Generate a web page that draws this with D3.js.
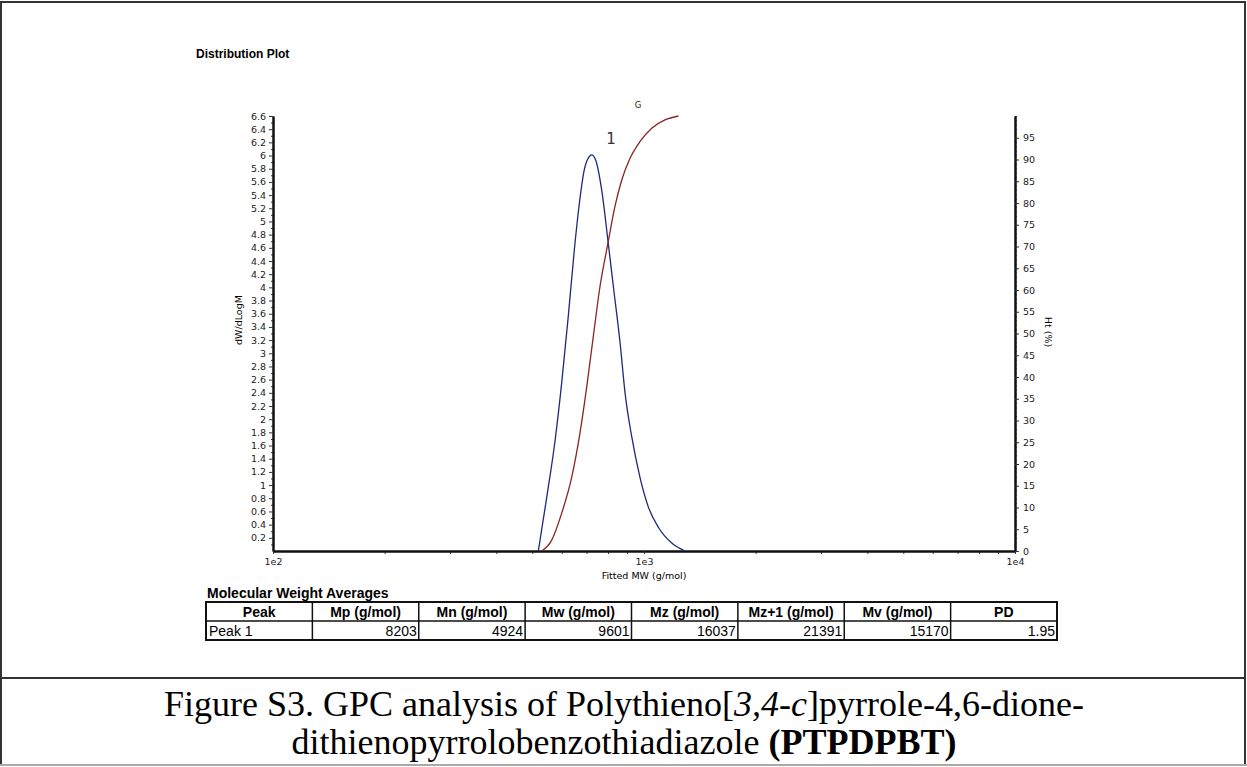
<!DOCTYPE html>
<html>
<head>
<meta charset="utf-8">
<script src="https://cdn.jsdelivr.net/npm/d3@7"></script>
<style>
  body { margin: 0; background: #fff; }
  svg { display: block; }
  .tick text { font-family: "DejaVu Sans", Verdana, sans-serif; font-size: 9.5px; fill: #222; }
</style>
</head>
<body>
<svg id="chart" width="1247" height="767"></svg>
<script>
// distribution curve (dW/dLogM)
var distMW = [519, 547, 576, 600, 625, 649, 668, 690, 711, 723, 741, 769, 801, 827, 862, 889, 927, 975, 1027, 1093, 1188, 1290]
var distDW = [0, 0.82, 1.68, 2.55, 3.56, 4.57, 5.23, 5.78, 5.98, 6.01, 5.93, 5.48, 4.67, 4.01, 3.16, 2.40, 1.73, 1.12, 0.67, 0.36, 0.12, 0]

// cumulative curve Ht (%)
var cumMW = [530, 564, 600, 639, 672, 701, 730, 761, 801, 835, 871, 917, 975, 1049, 1139, 1238]
var cumHt = [0, 2.5, 8.7, 17.1, 27.1, 37.8, 49.3, 60.8, 71.1, 79.2, 85.3, 90.3, 94.1, 97.2, 99.1, 100]

var leftTicks = d3.range(1, 34).map(function(i) { return +(i * 0.2).toFixed(1) })
var rightTicks = d3.range(0, 100, 5)
var xTicks = [100, 1000, 10000]

var tableHeaders = ["Peak", "Mp (g/mol)", "Mn (g/mol)", "Mw (g/mol)", "Mz (g/mol)", "Mz+1 (g/mol)", "Mv (g/mol)", "PD"]
var tableRow = ["Peak 1", "8203", "4924", "9601", "16037", "21391", "15170", "1.95"]

var svg = d3.select("#chart")

// page frame
svg.append("rect").attr("x", 1).attr("y", 2).attr("width", 1244).attr("height", 763)
  .attr("fill", "none").attr("stroke", "#333").attr("stroke-width", 2)
svg.append("line").attr("x1", 1).attr("x2", 1246).attr("y1", 678).attr("y2", 678)
  .attr("stroke", "#333").attr("stroke-width", 2)
svg.append("line").attr("x1", 0).attr("x2", 1247).attr("y1", 765).attr("y2", 765)
  .attr("stroke", "#aaa").attr("stroke-width", 2)

svg.append("text").attr("x", 196).attr("y", 58)
  .attr("font-family", "Liberation Sans, Arial, sans-serif").attr("font-size", 12).attr("font-weight", "bold")
  .text("Distribution Plot")

var x = d3.scaleLog().domain([100, 10000]).range([273, 1015])
var yL = d3.scaleLinear().domain([0, 6.6]).range([551, 116])
var yR = d3.scaleLinear().domain([0, 100]).range([551, 116])

function styleAxis(g) {
  g.select(".domain").attr("stroke", "#111").attr("stroke-width", 2)
  g.selectAll(".tick line").attr("stroke", "#333")
}

// left axis + minor ticks
svg.append("g").attr("transform", "translate(273,0)")
  .call(d3.axisLeft(yL).tickValues(d3.range(1, 66, 2).map(function(i) { return i * 0.1 }))
    .tickSize(2).tickSizeOuter(0).tickFormat(""))
  .call(styleAxis)
svg.append("g").attr("transform", "translate(273,0)")
  .call(d3.axisLeft(yL).tickValues(leftTicks).tickSize(4).tickSizeOuter(0).tickPadding(3)
    .tickFormat(function(d) { return d3.format("~g")(d) }))
  .call(styleAxis)

// right axis + minor ticks
svg.append("g").attr("transform", "translate(1015,0)")
  .call(d3.axisRight(yR).tickValues(d3.range(0, 101)).tickSize(2).tickSizeOuter(0).tickFormat(""))
  .call(styleAxis)
svg.append("g").attr("transform", "translate(1015,0)")
  .call(d3.axisRight(yR).tickValues(rightTicks).tickSize(4).tickSizeOuter(0).tickPadding(4))
  .call(styleAxis)

// bottom axis
var minorX = []
;[100, 1000].forEach(function(b) { for (var k = 2; k <= 9; k++) minorX.push(b * k) })
svg.append("g").attr("transform", "translate(0,551)")
  .call(d3.axisBottom(x).tickValues(minorX).tickSize(3).tickSizeOuter(0).tickFormat(""))
  .call(styleAxis)
svg.append("g").attr("transform", "translate(0,551)")
  .call(d3.axisBottom(x).tickValues(xTicks).tickSize(3).tickSizeOuter(0).tickPadding(4)
    .tickFormat(function(d) { return "1e" + Math.round(Math.log10(d)) }))
  .call(styleAxis)

// axis titles
var axisFont = "DejaVu Sans, Verdana, sans-serif"
svg.append("text").attr("transform", "translate(242,320) rotate(-90)").attr("text-anchor", "middle")
  .attr("font-family", axisFont).attr("font-size", 9.5).text("dW/dLogM")
svg.append("text").attr("transform", "translate(1045,332) rotate(90)").attr("text-anchor", "middle")
  .attr("font-family", axisFont).attr("font-size", 9.5).text("Ht (%)")
svg.append("text").attr("x", 644).attr("y", 579).attr("text-anchor", "middle")
  .attr("font-family", axisFont).attr("font-size", 9.5).text("Fitted MW (g/mol)")

// curves
var distLine = d3.line().x(function(d, i) { return x(distMW[i]) }).y(function(d) { return yL(d) })
  .curve(d3.curveMonotoneX)
svg.append("path").attr("d", distLine(distDW))
  .attr("fill", "none").attr("stroke", "#1c2a78").attr("stroke-width", 1.3)

var cumLine = d3.line().x(function(d, i) { return x(cumMW[i]) }).y(function(d) { return yR(d) })
  .curve(d3.curveMonotoneX)
svg.append("path").attr("d", cumLine(cumHt))
  .attr("fill", "none").attr("stroke", "#8a2424").attr("stroke-width", 1.3)

svg.append("text").attr("x", 611).attr("y", 144).attr("text-anchor", "middle")
  .attr("font-family", axisFont).attr("font-size", 15).attr("fill", "#333").text("1")
svg.append("text").attr("x", 638).attr("y", 108).attr("text-anchor", "middle")
  .attr("font-family", axisFont).attr("font-size", 8.5).attr("fill", "#222").text("G")

// table
var tFont = "Liberation Sans, Arial, sans-serif"
svg.append("text").attr("x", 207).attr("y", 598)
  .attr("font-family", tFont).attr("font-size", 14).attr("font-weight", "bold")
  .text("Molecular Weight Averages")

var colX = d3.scaleLinear().domain([0, tableHeaders.length]).range([206, 1057])
var rowTop = 602, rowMid = 621, rowBot = 640
svg.append("rect").attr("x", colX(0)).attr("y", rowTop).attr("width", colX(8) - colX(0)).attr("height", rowBot - rowTop)
  .attr("fill", "none").attr("stroke", "#111").attr("stroke-width", 2)
svg.append("line").attr("x1", colX(0)).attr("x2", colX(8)).attr("y1", rowMid).attr("y2", rowMid)
  .attr("stroke", "#111").attr("stroke-width", 1.5)
svg.selectAll(".colsep").data(d3.range(1, 8)).enter().append("line")
  .attr("x1", function(d) { return colX(d) }).attr("x2", function(d) { return colX(d) })
  .attr("y1", rowTop).attr("y2", rowBot).attr("stroke", "#111").attr("stroke-width", 1.5)

svg.selectAll(".hdr").data(tableHeaders).enter().append("text")
  .attr("x", function(d, i) { return (colX(i) + colX(i + 1)) / 2 }).attr("y", rowMid - 4)
  .attr("text-anchor", "middle").attr("font-family", tFont).attr("font-size", 14).attr("font-weight", "bold")
  .text(function(d) { return d })
svg.selectAll(".cell").data(tableRow).enter().append("text")
  .attr("x", function(d, i) { return i == 0 ? colX(0) + 3 : colX(i + 1) - 2 }).attr("y", rowBot - 4)
  .attr("text-anchor", function(d, i) { return i == 0 ? "start" : "end" })
  .attr("font-family", tFont).attr("font-size", 14)
  .text(function(d) { return d })

// caption
var cap = svg.append("g").attr("font-family", "Liberation Serif, Times New Roman, serif").attr("font-size", 36)
var l1 = cap.append("text").attr("x", 624).attr("y", 716).attr("text-anchor", "middle")
l1.append("tspan").text("Figure S3. GPC analysis of Polythieno[")
l1.append("tspan").attr("font-style", "italic").text("3,4-c")
l1.append("tspan").text("]pyrrole-4,6-dione-")
var l2 = cap.append("text").attr("x", 624).attr("y", 754).attr("text-anchor", "middle")
l2.append("tspan").text("dithienopyrrolobenzothiadiazole ")
l2.append("tspan").attr("font-weight", "bold").text("(PTPDPBT)")
</script>
</body>
</html>
